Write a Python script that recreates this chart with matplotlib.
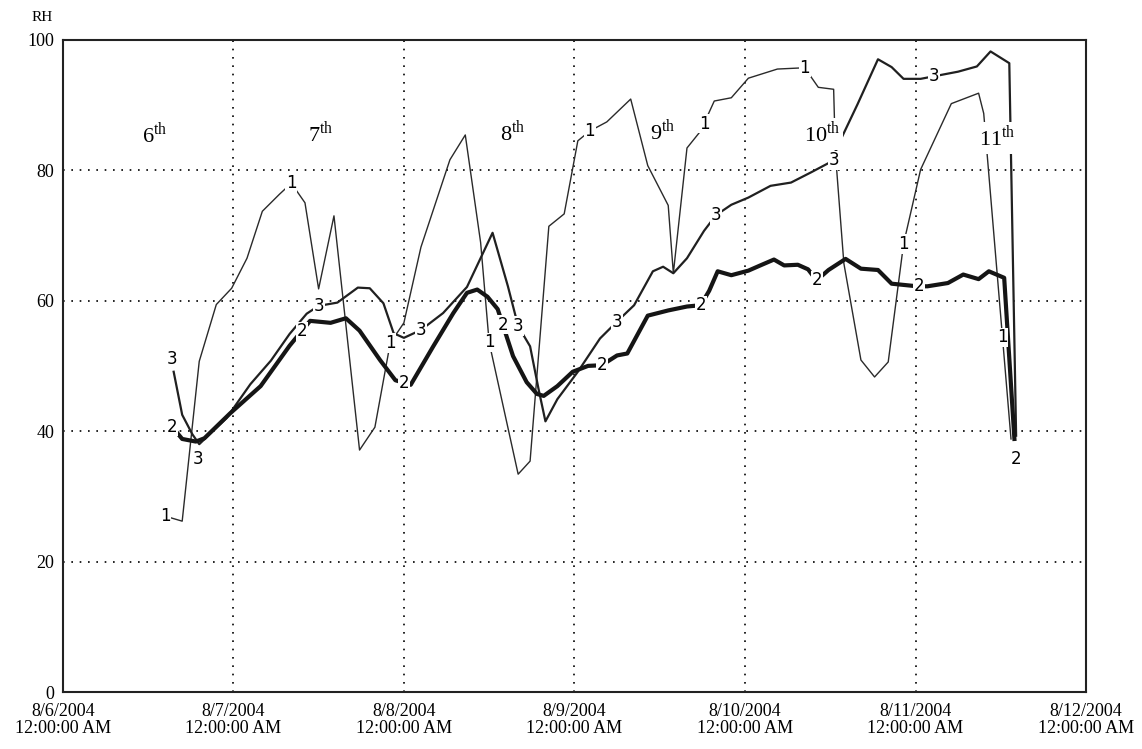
"""RH readings for three sensors, 6th to 11th of August 2004."""

import matplotlib
matplotlib.use('Agg')
import matplotlib.pyplot as plt
import numpy as np

# x is days since 8/6/2004 12:00:00 AM, y is RH (%)
s1_days = [0.57, 0.70, 0.80, 0.90, 0.99, 1.08, 1.17, 1.27, 1.34, 1.42, 1.50,
           1.59, 1.74, 1.83, 1.92, 2.00, 2.10, 2.27, 2.36, 2.45, 2.50, 2.67,
           2.74, 2.85, 2.94, 3.02, 3.09, 3.19, 3.33, 3.43, 3.55, 3.58, 3.66,
           3.74, 3.82, 3.92, 4.02, 4.19, 4.35, 4.43, 4.52, 4.53, 4.58, 4.68,
           4.76, 4.84, 4.93, 5.03, 5.21, 5.37, 5.40, 5.56]
s1_rh = [27.2, 26.2, 50.7, 59.4, 61.9, 66.5, 73.7, 76.3, 78.0, 75.0, 61.8,
         73.0, 37.1, 40.6, 53.5, 56.6, 68.2, 81.6, 85.4, 68.9, 53.6, 33.4,
         35.4, 71.4, 73.3, 84.5, 86.0, 87.4, 90.9, 80.7, 74.6, 64.2, 83.4,
         86.0, 90.6, 91.1, 94.1, 95.5, 95.7, 92.7, 92.4, 82.7, 65.7, 50.9,
         48.3, 50.6, 68.7, 80.1, 90.2, 91.8, 88.7, 38.8]

s2_days = [0.64, 0.70, 0.78, 0.83, 0.98, 1.16, 1.33, 1.45, 1.57, 1.66, 1.74,
           1.86, 1.95, 2.04, 2.17, 2.29, 2.37, 2.43, 2.49, 2.55, 2.64, 2.72,
           2.78, 2.82, 2.90, 2.99, 3.08, 3.16, 3.25, 3.31, 3.43, 3.55, 3.66,
           3.74, 3.79, 3.84, 3.92, 4.02, 4.09, 4.17, 4.23, 4.31, 4.37, 4.42,
           4.49, 4.59, 4.68, 4.78, 4.86, 5.01, 5.07, 5.19, 5.28, 5.37, 5.43,
           5.52, 5.58]
s2_rh = [40.7, 38.8, 38.4, 38.9, 42.7, 46.9, 53.1, 56.9, 56.6, 57.3, 55.4,
         50.9, 47.8, 47.1, 52.9, 58.1, 61.2, 61.7, 60.6, 58.7, 51.5, 47.5,
         45.7, 45.4, 46.9, 49.1, 50.0, 50.1, 51.6, 51.9, 57.7, 58.5, 59.1,
         59.3, 61.5, 64.5, 63.9, 64.6, 65.4, 66.3, 65.4, 65.5, 64.8, 63.1,
         64.7, 66.4, 64.9, 64.7, 62.6, 62.2, 62.2, 62.7, 64.0, 63.3, 64.5,
         63.5, 38.8]

s3_days = [0.65, 0.70, 0.76, 0.80, 0.96, 1.10, 1.22, 1.33, 1.43, 1.50, 1.61,
           1.73, 1.80, 1.88, 1.94, 2.00, 2.10, 2.23, 2.37, 2.52, 2.61, 2.67,
           2.74, 2.79, 2.83, 2.90, 3.02, 3.15, 3.25, 3.35, 3.46, 3.52, 3.58,
           3.66, 3.76, 3.83, 3.92, 4.02, 4.15, 4.27, 4.39, 4.52, 4.54, 4.66,
           4.78, 4.86, 4.93, 5.03, 5.25, 5.36, 5.44, 5.55, 5.59]
s3_rh = [49.1, 42.5, 39.5, 38.0, 42.0, 47.2, 50.8, 54.9, 58.0, 59.2, 59.7,
         62.0, 61.9, 59.6, 55.0, 54.3, 55.5, 58.1, 62.1, 70.4, 62.2, 56.1,
         53.0, 46.4, 41.5, 44.9, 49.1, 54.2, 56.8, 59.3, 64.5, 65.2, 64.2,
         66.5, 70.7, 73.1, 74.7, 75.8, 77.6, 78.1, 79.7, 81.5, 83.5, 90.1,
         97.0, 95.8, 94.0, 94.0, 95.1, 95.9, 98.2, 96.4, 39.3]

# where the series number is written along each line
s1_marks = [0.60, 1.34, 1.92, 2.50, 3.09, 3.76, 4.35, 4.93, 5.51]
s2_marks = [0.64, 1.40, 2.00, 2.58, 3.16, 3.74, 4.42, 5.02]
s3_marks = [1.50, 2.10, 2.67, 3.25, 3.83, 4.52, 5.11]

day_names = ['6', '7', '8', '9', '10', '11']
day_pos = [0.54, 1.51, 2.64, 3.52, 4.45, 5.48]
day_rh = [85.4, 85.6, 85.8, 86.0, 85.6, 85.0]

tick_labels = ['8/6/2004\n12:00:00 AM', '8/7/2004\n12:00:00 AM',
               '8/8/2004\n12:00:00 AM', '8/9/2004\n12:00:00 AM',
               '8/10/2004\n12:00:00 AM', '8/11/2004\n12:00:00 AM',
               '8/12/2004\n12:00:00 AM']

plt.rcParams['font.family'] = ['Liberation Serif', 'DejaVu Serif']
plt.rcParams['mathtext.fontset'] = 'custom'
plt.rcParams['mathtext.rm'] = 'Liberation Serif'

fig = plt.figure(figsize=(11.42, 7.49), dpi=100)
ax = fig.add_axes([0.055, 0.076, 0.896, 0.871])

ax.plot(s1_days, s1_rh, color='#2a2a2a', lw=1.0, zorder=3)
ax.plot(s3_days, s3_rh, color='#202020', lw=1.6, zorder=3)
ax.plot(s2_days, s2_rh, color='#151515', lw=3.0, zorder=3)

num_font = ['DejaVu Sans']
box = dict(facecolor='white', edgecolor='none', pad=0.5)
for name, days, rh, marks in [('1', s1_days, s1_rh, s1_marks),
                              ('2', s2_days, s2_rh, s2_marks),
                              ('3', s3_days, s3_rh, s3_marks)]:
    for d in marks:
        ax.text(d, np.interp(d, days, rh), name, fontsize=12,
                family=num_font, ha='center', va='center',
                bbox=box, zorder=4)

# extra labels at the ends of series 2 and 3
ax.text(s3_days[0] - 0.01, s3_rh[0] + 2.0, '3', fontsize=12,
        family=num_font, ha='center', va='center', zorder=4)
ax.text(s3_days[3] - 0.01, s3_rh[3] - 2.2, '3', fontsize=12,
        family=num_font, ha='center', va='center', bbox=box, zorder=4)
ax.text(s2_days[-1] + 0.01, s2_rh[-1] - 3.0, '2', fontsize=12,
        family=num_font, ha='center', va='center', bbox=box, zorder=4)

for name, d, rh in zip(day_names, day_pos, day_rh):
    ax.text(d, rh, name + '$^{\\mathrm{th}}$', fontsize=16, ha='center',
            va='center', bbox=dict(facecolor='white', edgecolor='none',
                                   pad=2), zorder=5)

ax.set_xlim(0, 6)
ax.set_ylim(0, 100)
ax.set_xticks(range(7))
ax.set_xticklabels(tick_labels, fontsize=13, linespacing=1.0)
ax.set_yticks(range(0, 101, 20))
ax.tick_params(length=0, pad=8, labelsize=13)
ax.tick_params(axis='y', pad=6)
ax.grid(True, color='black', linestyle=(0, (1, 4)), lw=1.2)
for sp in ax.spines.values():
    sp.set_linewidth(1.5)
    sp.set_color('#222222')

fig.text(0.028, 0.977, 'RH', fontsize=11, ha='left', va='center')

fig.savefig('out.png', dpi=100)
